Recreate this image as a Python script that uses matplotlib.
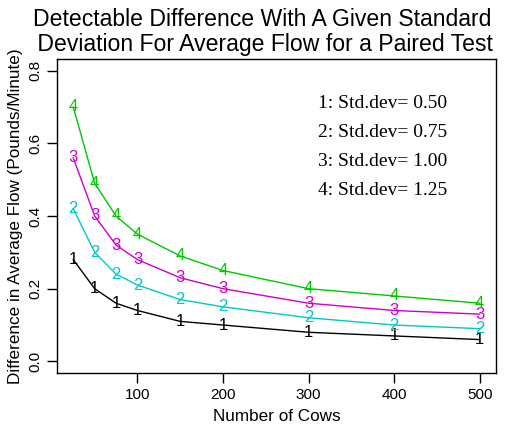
import numpy as np
import matplotlib
matplotlib.use("Agg")
import matplotlib.pyplot as plt

# number of cows and detectable difference for each std.dev
cows = [25, 50, 75, 100, 150, 200, 300, 400, 500]
sd_050 = [0.28, 0.20, 0.16, 0.14, 0.11, 0.10, 0.08, 0.07, 0.06]
sd_075 = [0.42, 0.30, 0.24, 0.21, 0.17, 0.15, 0.12, 0.10, 0.09]
sd_100 = [0.56, 0.40, 0.32, 0.28, 0.23, 0.20, 0.16, 0.14, 0.13]
sd_125 = [0.70, 0.49, 0.40, 0.35, 0.29, 0.25, 0.20, 0.18, 0.16]
series = [sd_050, sd_075, sd_100, sd_125]
labels = ["1", "2", "3", "4"]
legend_txt = ["1: Std.dev= 0.50", "2: Std.dev= 0.75",
              "3: Std.dev= 1.00", "4: Std.dev= 1.25"]
colors = ["#000000", "#00C8C8", "#CD00CD", "#00C800"]

plt.rcParams['font.family'] = ['Liberation Sans', 'DejaVu Sans']

fig = plt.figure(figsize=(5.24, 4.33), dpi=100)
ax = fig.add_axes([57/524, 1 - 373/433, (496-57)/524, (373-59)/433])

for ys, lab, c in zip(series, labels, colors):
    ax.plot(cows, ys, color=c, lw=1)
    for x, y in zip(cows, ys):
        ax.text(x, y, lab, color=c, fontsize=12, ha='center', va='center')

ax.set_xlim(25 - 0.04*475, 500 + 0.04*475)
ax.set_ylim(-0.032, 0.832)
ax.set_xticks([100, 200, 300, 400, 500])
ax.set_yticks([0.0, 0.2, 0.4, 0.6, 0.8])
ax.set_yticklabels(["0.0", "0.2", "0.4", "0.6", "0.8"], rotation=90, va='center')
ax.tick_params(direction='out', length=7, labelsize=11, width=1)
for s in ax.spines.values():
    s.set_linewidth(1)

ax.set_xlabel("Number of Cows", fontsize=12.3, labelpad=5)
ax.set_ylabel("Difference in Average Flow (Pounds/Minute)", fontsize=12.3, labelpad=4)

fig.text(0.5, 1 - 32/433, "Detectable Difference With A Given Standard\n Deviation For Average Flow for a Paired Test",
         ha='center', va='center', fontsize=16.6, linespacing=1.13)

for i, t in enumerate(legend_txt):
    ax.text(311, 0.709 - i*0.0795, t, fontsize=14, family='Liberation Serif',
            ha='left', va='center')

fig.savefig("out.png", dpi=100)
